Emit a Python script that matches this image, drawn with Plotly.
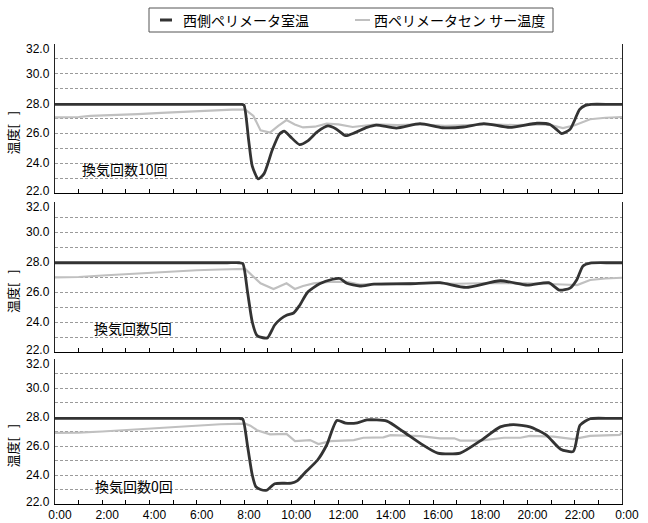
import plotly.graph_objects as go

# ---- data -------------------------------------------------------------
panel_labels = ["換気回数10回", "換気回数5回", "換気回数0回"]
series_names = ["西側ペリメータ室温", "西ペリメータセン サー温度"]
x_tick_labels = ["0:00", "2:00", "4:00", "6:00", "8:00", "10:00", "12:00",
                 "14:00", "16:00", "18:00", "20:00", "22:00", "0:00"]
y_tick_values = [22, 24, 26, 28, 30, 32]

# 換気回数10回
room_t_10 = [0, 2, 4, 6, 7.5, 7.9, 8.0, 8.2, 8.35, 8.6, 8.85, 9.2, 9.5, 9.7, 9.95,
             10.35, 10.7, 11.1, 11.55, 11.9, 12.3, 12.7, 13.2, 13.6, 14.45, 15.45,
             16.4, 17.3, 18.15, 19.25, 20.4, 20.95, 21.2, 21.45, 21.8, 22.0, 22.2,
             22.45, 22.7, 23.5, 24]
room_v_10 = [27.95, 27.95, 27.95, 27.95, 27.95, 27.95, 27.9, 25.5, 23.8, 22.95, 23.3,
             24.9, 25.95, 26.15, 25.8, 25.25, 25.5, 26.1, 26.5, 26.3, 25.85, 26.05,
             26.4, 26.56, 26.36, 26.66, 26.38, 26.43, 26.66, 26.4, 26.68, 26.6, 26.3,
             25.98, 26.27, 26.9, 27.6, 27.88, 27.95, 27.95, 27.95]
sensor_t_10 = [0, 1.0, 1.5, 2.5, 3.5, 4.5, 5.5, 6.5, 7.5, 8.05, 8.4, 8.7, 9.1, 9.45,
               9.8, 10.15, 10.5, 11.0, 11.5, 12.0, 12.6, 13.6, 14.5, 15.45, 16.5,
               17.5, 18.5, 19.5, 20.5, 21.0, 21.5, 22.0, 22.65, 23.3, 24]
sensor_v_10 = [27.08, 27.1, 27.18, 27.22, 27.3, 27.38, 27.45, 27.55, 27.6, 27.6,
               27.17, 26.2, 26.05, 26.5, 26.9, 26.6, 26.4, 26.45, 26.66, 26.6, 26.43,
               26.6, 26.55, 26.6, 26.5, 26.55, 26.6, 26.55, 26.6, 26.55, 26.35, 26.55,
               26.95, 27.05, 27.1]

# 換気回数5回
room_t_5 = [0, 2, 4, 6, 7.3, 7.8, 7.95, 8.15, 8.35, 8.55, 8.8, 9.0, 9.3, 9.55, 9.8,
            10.1, 10.35, 10.7, 11.2, 11.75, 12.05, 12.35, 12.9, 13.5, 15.0, 16.3,
            17.4, 18.85, 20.0, 20.9, 21.35, 21.8, 22.08, 22.35, 22.65, 23.5, 24]
room_v_5 = [27.95, 27.95, 27.95, 27.95, 27.95, 27.95, 27.9, 26.0, 24.0, 23.1, 22.95,
            22.95, 23.8, 24.2, 24.45, 24.6, 25.1, 26.0, 26.55, 26.85, 26.9, 26.58,
            26.4, 26.52, 26.55, 26.62, 26.31, 26.75, 26.46, 26.62, 26.13, 26.26,
            26.8, 27.74, 27.93, 27.95, 27.95]
sensor_t_5 = [0, 1.0, 2.0, 3.0, 4.0, 5.0, 6.0, 7.0, 8.05, 8.4, 8.7, 9.25, 9.8, 10.15,
              10.5, 10.95, 11.6, 12.35, 12.9, 14, 15.5, 17, 18.5, 20, 21.0, 21.5,
              22.1, 22.65, 23.3, 24]
sensor_v_5 = [26.98, 27.0, 27.1, 27.2, 27.3, 27.35, 27.45, 27.5, 27.54, 27.02, 26.58,
              26.2, 26.58, 26.2, 26.4, 26.57, 26.68, 26.68, 26.5, 26.58, 26.6, 26.55,
              26.6, 26.58, 26.55, 26.5, 26.46, 26.8, 26.9, 26.95]

# 換気回数0回
room_t_0 = [0, 2, 4, 6, 7.3, 7.8, 7.95, 8.15, 8.35, 8.5, 8.7, 8.96, 9.3, 10.0, 10.25,
            10.65, 11.1, 11.5, 11.93, 12.3, 12.8, 13.2, 14.05, 14.75, 15.45, 16.2,
            17.15, 18.0, 18.85, 19.4, 20.1, 20.8, 21.4, 21.94, 22.22, 22.65, 23.5, 24]
room_v_0 = [27.9, 27.9, 27.9, 27.9, 27.9, 27.9, 27.85, 26.0, 24.0, 23.2, 23.0, 22.95,
            23.4, 23.44, 23.6, 24.28, 25.0, 26.07, 27.76, 27.58, 27.6, 27.8, 27.72,
            26.98, 26.2, 25.51, 25.51, 26.35, 27.32, 27.47, 27.32, 26.75, 25.78,
            25.63, 27.43, 27.88, 27.9, 27.9]
sensor_t_0 = [0, 1, 2, 3, 4, 5, 6, 7, 8.05, 8.27, 8.55, 9.1, 9.8, 10.16, 10.8, 11.15,
              11.65, 12.65, 13.05, 13.9, 14.2, 15.0, 15.45, 16.3, 16.9, 17.15, 18.0,
              19.0, 19.7, 20.1, 21.1, 21.95, 22.65, 23.9, 24]
sensor_v_0 = [26.9, 26.92, 27.0, 27.1, 27.2, 27.3, 27.4, 27.5, 27.54, 27.4, 27.09,
              26.8, 26.83, 26.34, 26.41, 26.14, 26.34, 26.41, 26.57, 26.6, 26.75,
              26.68, 26.68, 26.53, 26.53, 26.37, 26.37, 26.57, 26.57, 26.7, 26.64,
              26.48, 26.7, 26.77, 26.9]

panels = [
    (room_t_10, room_v_10, sensor_t_10, sensor_v_10),
    (room_t_5, room_v_5, sensor_t_5, sensor_v_5),
    (room_t_0, room_v_0, sensor_t_0, sensor_v_0),
]

# ---- layout geometry (pixels) ----------------------------------------
W, H = 648, 523
PL, PR, PT, PB = 55, 622, 44, 504            # plot block edges
panel_px = [(44, 193), (202, 352), (359, 504)]  # top/bottom of each panel

def px_x(px):
    return (px - PL) / (PR - PL)

def px_y(py):
    return (PB - py) / (PB - PT)

DARK = "#333333"
LIGHT = "#c0c0c0"
GRID = "#9a9a9a"
TXT_FONT = "Liberation Sans"
JP_FONT = "Noto Sans CJK JP"

fig = go.Figure()
layout = dict(
    width=W, height=H,
    margin=dict(l=PL, r=W - PR, t=PT, b=H - PB, autoexpand=False),
    paper_bgcolor="white", plot_bgcolor="white",
    showlegend=False,
    font=dict(family=TXT_FONT, size=12, color="black"),
)

tick_vals = list(range(0, 25))
tick_text = [x_tick_labels[i // 2] if i % 2 == 0 else "" for i in tick_vals]

annotations = []
for i, (rt, rv, st, sv) in enumerate(panels):
    n = "" if i == 0 else str(i + 1)
    xa, ya = "x" + n, "y" + n
    fig.add_trace(go.Scatter(x=st, y=sv, xaxis=xa, yaxis=ya, mode="lines",
                             name=series_names[1],
                             line=dict(color=LIGHT, width=2.2)))
    fig.add_trace(go.Scatter(x=rt, y=rv, xaxis=xa, yaxis=ya, mode="lines",
                             name=series_names[0],
                             line=dict(color=DARK, width=2.8, shape="spline",
                                       smoothing=0.6)))
    top, bot = panel_px[i]
    layout["xaxis" + n] = dict(
        domain=[0, 1], anchor=ya, range=[0, 24], automargin=False,
        tickvals=tick_vals, ticktext=tick_text,
        showticklabels=(i == 2), ticks="inside", ticklen=4, tickcolor="black",
        ticklabelshift=5,
        showline=True, linecolor="black", linewidth=1,
        showgrid=False, zeroline=False,
        tickfont=dict(family=TXT_FONT, size=12, color="black"),
    )
    layout["yaxis" + n] = dict(
        domain=[px_y(bot), px_y(top)], anchor=xa, range=[22, 32], automargin=False,
        tickvals=y_tick_values, showticklabels=False,
        ticks="", showline=True, mirror=True, linecolor="#222222", linewidth=1,
        showgrid=True, gridcolor=GRID, gridwidth=1, griddash="3px,2px",
        minor=dict(dtick=1, tick0=22, showgrid=True, gridcolor=GRID,
                   griddash="3px,2px", gridwidth=1),
        zeroline=False,
    )
    # y tick labels; the end ones are nudged inward so stacked panels don't collide
    for v in y_tick_values:
        shift = -5 if v == 32 else (2 if v == 22 else 0)
        annotations.append(dict(
            x=0, y=v, xref="paper", yref=ya, text=f"{v:.1f}",
            showarrow=False, xanchor="right", yanchor="middle",
            xshift=-3, yshift=shift,
            font=dict(family=TXT_FONT, size=12, color="black")))
    # y axis title
    annotations.append(dict(
        x=px_x(12), y=px_y((top + bot) / 2 + 14), xref="paper", yref="paper",
        text="温度[   ]", textangle=-90, showarrow=False,
        font=dict(family=JP_FONT, size=13, color="black"),
        xanchor="center", yanchor="middle"))
    # ventilation label
    lab_x = [80, 92, 93][i]
    lab_y = [169, 328, 486][i]
    annotations.append(dict(
        x=px_x(lab_x), y=px_y(lab_y), xref="paper", yref="paper",
        text=panel_labels[i], showarrow=False,
        font=dict(family=JP_FONT, size=14, color="black"),
        xanchor="left", yanchor="middle"))

# legend (box, short line samples, labels)
shapes = [
    dict(type="rect", xref="paper", yref="paper",
         x0=px_x(149), x1=px_x(553), y0=px_y(32), y1=px_y(8),
         line=dict(color="#555555", width=1), fillcolor="white"),
    dict(type="line", xref="paper", yref="paper",
         x0=px_x(160), x1=px_x(172), y0=px_y(20), y1=px_y(20),
         line=dict(color=DARK, width=3)),
    dict(type="line", xref="paper", yref="paper",
         x0=px_x(355), x1=px_x(370), y0=px_y(20), y1=px_y(20),
         line=dict(color=LIGHT, width=2)),
]
annotations.append(dict(
    x=px_x(181), y=px_y(20), xref="paper", yref="paper", text=series_names[0],
    showarrow=False, xanchor="left", yanchor="middle",
    font=dict(family=JP_FONT, size=14, color="black")))
annotations.append(dict(
    x=px_x(372), y=px_y(20), xref="paper", yref="paper", text=series_names[1],
    showarrow=False, xanchor="left", yanchor="middle",
    font=dict(family=JP_FONT, size=14, color="black")))

layout["annotations"] = annotations
layout["shapes"] = shapes
fig.update_layout(**layout)
fig.write_html("out.html")
